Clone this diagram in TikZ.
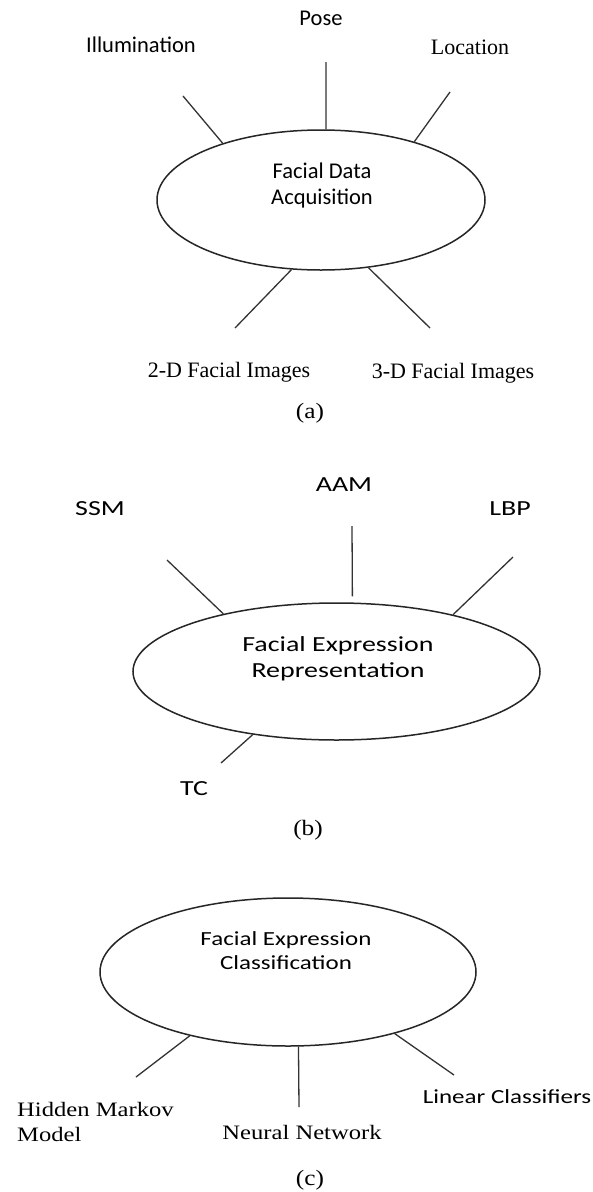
\documentclass[tikz,border=0pt]{standalone}
\usepackage{fontspec}
\setmainfont{Liberation Serif}
\newfontfamily\fcA{Carlito}
\newfontfamily\fcB{Carlito}[FakeStretch=1.3]
\newfontfamily\fcC{Carlito}[FakeStretch=1.25]
\newfontfamily\fsA{Liberation Serif}
\newfontfamily\fsC{Liberation Serif}[FakeStretch=1.2]
\newfontfamily\fsCap{Liberation Serif}[FakeStretch=1.15]
\usetikzlibrary{shapes.geometric}
\tikzset{
  bubble/.style={ellipse, draw=black!85, line width=1.5pt, inner sep=0pt},
  spoke/.style={draw=black!80, line width=1.3pt},
  lblA/.style={inner sep=0pt, font=\fcA\fontsize{22.5}{26}\selectfont, align=center},
  lblB/.style={inner sep=0pt, font=\fcB\fontsize{21.5}{26}\selectfont, align=center},
  lblC/.style={inner sep=0pt, font=\fcC\fontsize{20}{24}\selectfont, align=center},
  serA/.style={inner sep=0pt, font=\fsA\fontsize{22}{26}\selectfont, align=center},
  serC/.style={inner sep=0pt, font=\fsC\fontsize{20.5}{25}\selectfont, align=left},
  capt/.style={inner sep=0pt, font=\fsCap\fontsize{22}{26}\selectfont}
}
\begin{document}
\begin{tikzpicture}[x=1pt,y=-1pt]
\useasboundingbox (0,0) rectangle (593,1192);
\fill[white] (0,0) rectangle (593,1192);

% ---------- (a) ----------
\node[bubble, minimum width=328pt, minimum height=140pt] (ea) at (321,200) {};
\node[lblA] (ta) at (322,185) {Facial Data\\Acquisition};
\node[lblA] (pose) at (321,18) {Pose};
\node[lblA] (illum) at (141,45) {Illumination};
\node[serA] (loc) at (470,47) {Location};
\node[serA] (twod) at (229,372) {2-D Facial Images};
\node[serA] (threed) at (453,373) {3-D Facial Images};
\node[capt] (capa) at (310,413) {(a)};
\coordinate (cpose) at (326,62);
\coordinate (cillum) at (183,96);
\coordinate (cloc) at (450,92);
\coordinate (ctwod) at (235,328);
\coordinate (cthreed) at (430,328);
\draw[spoke] (cpose) -- (ea.86);
\draw[spoke] (cillum) -- (ea.150);
\draw[spoke] (cloc) -- (ea.32);
\draw[spoke] (ctwod) -- (ea.247);
\draw[spoke] (cthreed) -- (ea.305);

% ---------- (b) ----------
\node[bubble, minimum width=407pt, minimum height=137pt] (eb) at (336.5,671.5) {};
\node[lblB] (tb) at (338,659) {Facial Expression\\Representation};
\node[lblB] (aam) at (344,485) {AAM};
\node[lblB] (ssm) at (100,509) {SSM};
\node[lblB] (lbp) at (510,509) {LBP};
\node[lblB] (tc) at (194,789) {TC};
\node[capt] (capb) at (308,830) {(b)};
\coordinate (caam) at (352,526);
\coordinate (cssm) at (167,560);
\coordinate (clbp) at (513,557);
\coordinate (ctc) at (221,763);
\draw[spoke, shorten >=6pt] (caam) -- (eb.77);
\draw[spoke] (cssm) -- (eb.153);
\draw[spoke] (clbp) -- (eb.26);
\draw[spoke] (ctc) -- (eb.217);

% ---------- (c) ----------
\node[bubble, minimum width=376pt, minimum height=148pt] (ec) at (288,972) {};
\node[lblC] (tcl) at (286,951) {Facial Expression\\Classification};
\node[serC, anchor=west] (hmm) at (17,1122) {Hidden Markov\\Model};
\node[serC, align=center] (nn) at (302,1132) {Neural Network};
\node[lblC] (lc) at (507,1097) {Linear Classifiers};
\node[capt] (capc) at (310,1180) {(c)};
\coordinate (chmm) at (136,1077);
\coordinate (cnn) at (299,1107);
\coordinate (clc) at (454,1075);
\draw[spoke] (chmm) -- (ec.213);
\draw[spoke] (cnn) -- (ec.278);
\draw[spoke] (clc) -- (ec.330);
\end{tikzpicture}
\end{document}
